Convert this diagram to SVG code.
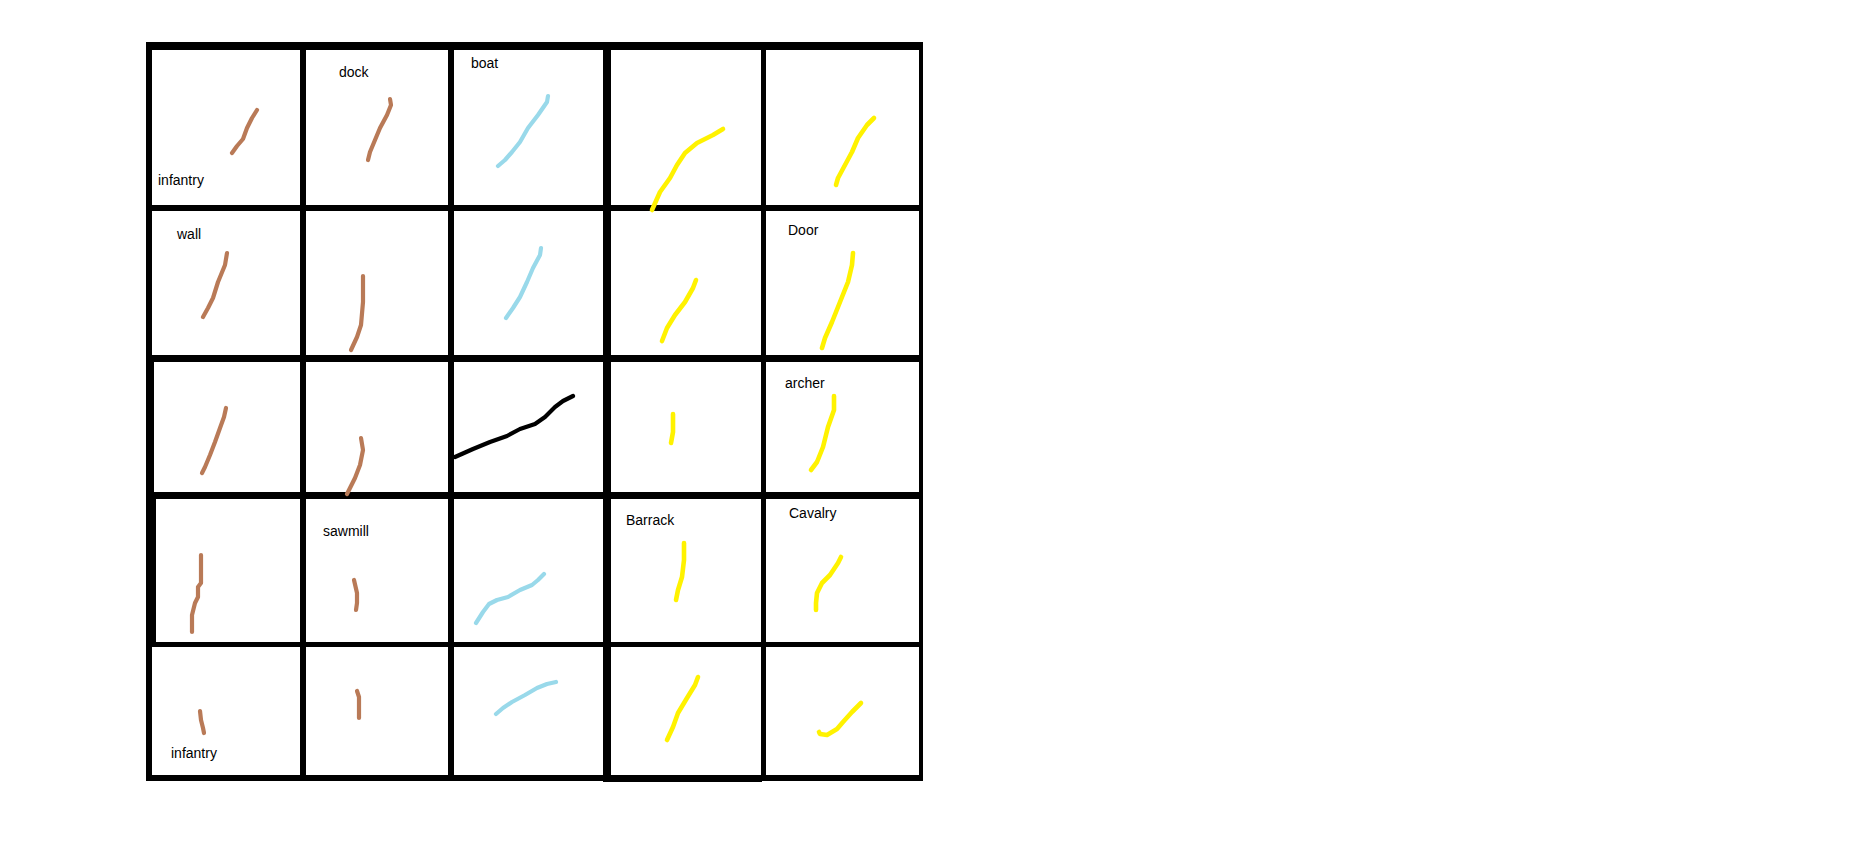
<svg xmlns="http://www.w3.org/2000/svg" width="1856" height="861" viewBox="0 0 1856 861">
<style>
.bg{fill:#ffffff}
.ln{fill:#000000}
.s{fill:none;stroke-width:4.2;stroke-linecap:round;stroke-linejoin:round}
.br{stroke:#b97a57}
.bl{stroke:#99d9ea}
.ye{stroke:#fff200;stroke-width:4.6}
.bk{stroke:#000000}
.t{font-family:"Liberation Sans",Arial,sans-serif;font-size:14px;fill:#000000}
</style>
<rect class="bg" x="0" y="0" width="1856" height="861"/>
<g id="grid">
  <rect class="ln" x="147" y="42" width="776" height="8"/>
  <rect class="ln" x="147" y="205" width="776" height="6"/>
  <rect class="ln" x="147" y="355" width="776" height="7"/>
  <rect class="ln" x="147" y="492" width="776" height="7"/>
  <rect class="ln" x="147" y="642" width="776" height="5"/>
  <rect class="ln" x="146" y="775" width="777" height="6"/>
  <rect class="ln" x="146" y="42" width="6" height="739"/>
  <rect class="ln" x="146" y="355" width="8" height="144"/>
  <rect class="ln" x="146" y="492" width="10" height="155"/>
  <rect class="ln" x="300" y="42" width="6" height="739"/>
  <rect class="ln" x="448" y="42" width="6" height="739"/>
  <rect class="ln" x="603" y="42" width="8" height="740"/>
  <rect class="ln" x="604" y="776" width="158" height="6"/>
  <rect class="ln" x="761" y="42" width="5" height="739"/>
  <rect class="ln" x="919" y="42" width="4" height="739"/>
</g>
<g id="cells">
  <g id="r1c1">
    <polyline class="s br" points="232,153 237,146 243,139 247,128 252,118 257,110"/>
    <text class="t" x="158" y="185">infantry</text>
  </g>
  <g id="r1c2">
    <polyline class="s br" points="390,99 391,105 387,115 380,128 375,140 370,152 368,160"/>
    <text class="t" x="339" y="77">dock</text>
  </g>
  <g id="r1c3">
    <polyline class="s bl" points="548,96 547,102 538,115 528,128 520,142 512,152 505,160 498,166"/>
    <text class="t" x="471" y="68">boat</text>
  </g>
  <g id="r1c4">
    <polyline class="s ye" points="723,129 713,135 697,143 685,153 677,165 670,178 660,192 652,210"/>
  </g>
  <g id="r1c5">
    <polyline class="s ye" points="874,118 867,125 858,138 852,152 845,165 838,178 836,185"/>
  </g>
  <g id="r2c1">
    <polyline class="s br" points="227,253 225,265 218,282 213,298 208,308 203,317"/>
    <text class="t" x="177" y="239">wall</text>
  </g>
  <g id="r2c2">
    <polyline class="s br" points="363,276 363,302 361,325 357,337 351,350"/>
  </g>
  <g id="r2c3">
    <polyline class="s bl" points="541,248 540,255 533,268 527,282 520,297 513,308 506,318"/>
  </g>
  <g id="r2c4">
    <polyline class="s ye" points="696,280 693,288 685,302 675,315 667,328 662,341"/>
  </g>
  <g id="r2c5">
    <polyline class="s ye" points="853,253 852,265 848,282 840,302 832,322 825,338 822,348"/>
    <text class="t" x="788" y="235">Door</text>
  </g>
  <g id="r3c1">
    <polyline class="s br" points="226,408 224,417 220,428 215,442 210,455 205,467 202,473"/>
  </g>
  <g id="r3c2">
    <polyline class="s br" points="361,438 363,450 360,465 355,478 347,494"/>
  </g>
  <g id="r3c3">
    <polyline class="s bk" points="573,396 563,401 555,407 545,417 535,424 520,429 507,436 490,442 473,449 455,457"/>
  </g>
  <g id="r3c4">
    <polyline class="s ye" points="673,414 673,432 671,443"/>
  </g>
  <g id="r3c5">
    <polyline class="s ye" points="834,396 834,410 828,427 823,447 817,462 811,470"/>
    <text class="t" x="785" y="388">archer</text>
  </g>
  <g id="r4c1">
    <polyline class="s br" points="201,555 201,583 198,587 198,597 195,603 192,615 192,632"/>
  </g>
  <g id="r4c2">
    <polyline class="s br" points="354,580 357,593 357,603 356,610"/>
    <text class="t" x="323" y="536">sawmill</text>
  </g>
  <g id="r4c3">
    <polyline class="s bl" points="544,574 538,580 532,585 520,590 508,597 497,600 489,604 483,612 476,623"/>
  </g>
  <g id="r4c4">
    <polyline class="s ye" points="684,543 684,560 682,577 678,590 676,600"/>
    <text class="t" x="626" y="525">Barrack</text>
  </g>
  <g id="r4c5">
    <polyline class="s ye" points="841,557 838,563 830,575 822,583 817,593 816,603 816,610"/>
    <text class="t" x="789" y="518">Cavalry</text>
  </g>
  <g id="r5c1">
    <polyline class="s br" points="200,711 201,720 203,728 204,733"/>
    <text class="t" x="171" y="758">infantry</text>
  </g>
  <g id="r5c2">
    <polyline class="s br" points="357,691 359,697 359,718"/>
  </g>
  <g id="r5c3">
    <polyline class="s bl" points="556,682 547,684 537,688 525,695 512,702 503,708 496,714"/>
  </g>
  <g id="r5c4">
    <polyline class="s ye" points="698,677 695,685 687,698 678,713 673,727 667,740"/>
  </g>
  <g id="r5c5">
    <polyline class="s ye" points="861,703 852,712 843,722 837,729 827,735 820,734 819,732"/>
  </g>
</g>
</svg>
